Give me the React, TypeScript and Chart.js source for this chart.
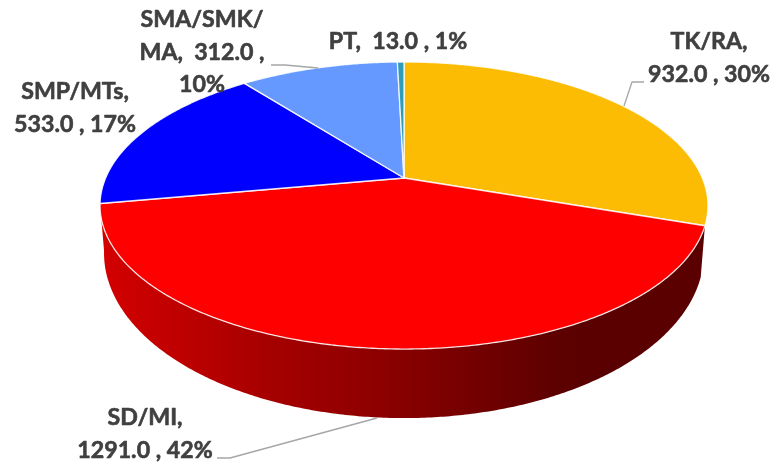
import React, { useEffect, useRef } from "react";
import { Chart, registerables } from "chart.js";

Chart.register(...registerables);

const categories = ["TK/RA", "SD/MI", "SMP/MTs", "SMA/SMK/MA", "PT"];
const values = [932, 1291, 533, 312, 13];
const colors = ["#FCBC04", "#FF0000", "#0000FF", "#6699FF", "#2E9DB8"];
const labelLines = [
  ["TK/RA,", "932.0 , 30%"],
  ["SD/MI,", "1291.0 , 42%"],
  ["SMP/MTs,", "533.0 , 17%"],
  ["SMA/SMK/", "MA,  312.0 ,", "10%"],
  ["PT,  13.0 , 1%"],
];
const labelCentres = [
  [709, 42],
  [145, 418],
  [75, 92],
  [202, 20],
  [398, 42],
];
const leaders = [
  [[624, 106], [632, 82], [644, 82]],
  [[377, 418], [230, 458], [217, 458]],
  [],
  [[318, 68], [285, 65], [271, 65]],
  [],
];

const P = 0.1917;
const sideIndex = 1;

function project(cx: number, cy: number, rx: number, ry: number, a: number) {
  const u = Math.sin(a);
  const v = -Math.cos(a);
  const w = 1 - P * v;
  return [cx + (rx * u) / w, cy + (ry * v) / w];
}

const pie3d = {
  id: "pie3d",
  beforeDatasetsDraw(chart: any) {
    const { ctx } = chart;
    const arcs = chart.getDatasetMeta(0).data;
    const { x: cx, y: cy, outerRadius: r } = arcs[0];
    const rx = r * 1.676;
    const ry = r * 0.7767;
    const lowRx = r * 1.654;
    const lowRy = r * 0.893;
    const lowCy = cy + r * 0.244;
    const ang = (t: number) => t + Math.PI / 2;
    const step = Math.PI / 360;

    // side wall of the front slice
    const s = arcs[sideIndex];
    const a0 = ang(s.startAngle);
    const a1 = ang(s.endAngle);
    const grad = ctx.createLinearGradient(100, 0, 600, 0);
    grad.addColorStop(0, "#D40000");
    grad.addColorStop(0.32, "#A80000");
    grad.addColorStop(0.6, "#880000");
    grad.addColorStop(0.92, "#5C0000");
    grad.addColorStop(1, "#5A0000");
    ctx.beginPath();
    for (let a = a0; a < a1; a += step) {
      const [x, y] = project(cx, cy, rx, ry, a);
      ctx.lineTo(x, y);
    }
    for (let a = a1; a > a0; a -= step) {
      const [x, y] = project(cx, lowCy, lowRx, lowRy, a);
      ctx.lineTo(x, y);
    }
    ctx.closePath();
    ctx.fillStyle = grad;
    ctx.fill();

    // top faces
    arcs.forEach((arc: any, i: number) => {
      const st = ang(arc.startAngle);
      const en = ang(arc.endAngle);
      ctx.beginPath();
      ctx.moveTo(cx, cy);
      for (let a = st; a < en; a += step) {
        const [x, y] = project(cx, cy, rx, ry, a);
        ctx.lineTo(x, y);
      }
      const [ex, ey] = project(cx, cy, rx, ry, en);
      ctx.lineTo(ex, ey);
      ctx.closePath();
      ctx.fillStyle = colors[i];
      ctx.fill();
      ctx.strokeStyle = "rgba(255,255,255,0.85)";
      ctx.lineWidth = 1.3;
      ctx.lineJoin = "round";
      ctx.stroke();
    });
    return false;
  },
  afterDraw(chart: any) {
    const { ctx } = chart;
    ctx.save();
    ctx.strokeStyle = "#A6A6A6";
    ctx.lineWidth = 1.3;
    leaders.forEach((pts) => {
      if (!pts.length) return;
      ctx.beginPath();
      pts.forEach(([x, y], i) => (i ? ctx.lineTo(x, y) : ctx.moveTo(x, y)));
      ctx.stroke();
    });
    ctx.fillStyle = "#404040";
    ctx.strokeStyle = "#404040";
    ctx.lineWidth = 0.6;
    ctx.lineJoin = "round";
    ctx.font = "700 23.2px Lato";
    ctx.textAlign = "center";
    ctx.textBaseline = "middle";
    labelLines.forEach((lines, i) => {
      const [x, y] = labelCentres[i];
      lines.forEach((t, j) => {
        ctx.fillText(t, x, y + j * 32.3);
        ctx.strokeText(t, x, y + j * 32.3);
      });
    });
    ctx.restore();
  },
};

export default function App() {
  const ref = useRef<HTMLCanvasElement>(null);
  useEffect(() => {
    const chart = new Chart(ref.current as HTMLCanvasElement, {
      type: "pie",
      data: {
        labels: categories,
        datasets: [{ data: values, backgroundColor: colors, borderWidth: 0 }],
      },
      options: {
        animation: false,
        responsive: false,
        devicePixelRatio: 1,
        layout: { padding: { left: 34, right: 0, top: 0, bottom: 108 } },
        plugins: { legend: { display: false }, tooltip: { enabled: false } },
      },
      plugins: [pie3d],
    } as any);
    return () => chart.destroy();
  }, []);
  return (
    <div style={{ position: "absolute", left: 0, top: 0, width: 774, height: 464, background: "#fff" }}>
      <canvas ref={ref} width={774} height={464} style={{ display: "block" }} />
    </div>
  );
}
